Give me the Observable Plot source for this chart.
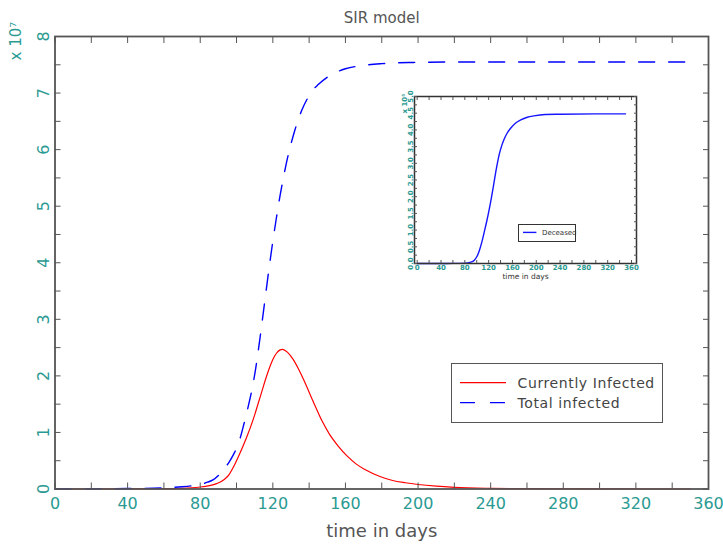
<!DOCTYPE html>
<html>
<head>
<meta charset="utf-8">
<script src="https://cdn.jsdelivr.net/npm/d3@7"></script>
<script src="https://cdn.jsdelivr.net/npm/@observablehq/plot@0.6"></script>
<style>
  body { margin: 0; background: #fff; }
  #wrap { position: relative; width: 723px; height: 547px; overflow: hidden; font-family: "DejaVu Sans", sans-serif; background: #fff; }
  .legend { position: absolute; box-sizing: border-box; background: #fff; }
</style>
</head>
<body>
<div id="wrap"></div>
<script>
// ---------------- data ----------------
const currentDays = [0, 20, 40, 60, 70, 75, 80, 85, 89, 92, 94, 96, 98, 100, 102, 104, 106, 108, 110, 112, 114, 116, 118, 120, 122, 124, 125.3, 128, 131, 134, 137, 140, 143, 147, 151, 156, 161, 166, 171, 179, 186, 193, 200, 210, 220, 240, 260, 300, 350];
const currentVals = [0, 0.0002, 0.001, 0.005, 0.012, 0.02, 0.035, 0.06, 0.095, 0.14, 0.19, 0.26, 0.37, 0.5, 0.64, 0.79, 0.95, 1.12, 1.31, 1.52, 1.73, 1.94, 2.13, 2.29, 2.4, 2.46, 2.47, 2.42, 2.3, 2.13, 1.93, 1.71, 1.49, 1.21, 0.98, 0.76, 0.58, 0.44, 0.34, 0.22, 0.15, 0.11, 0.08, 0.05, 0.03, 0.012, 0.005, 0.001, 0];

const totalDays = [0, 20, 40, 60, 70, 76, 80, 84, 87, 90, 92, 94, 96, 98, 100, 102, 104, 106, 108, 110, 112, 114, 116, 118, 120, 122, 124, 126, 128, 130, 132, 134, 136, 139, 142, 145, 150, 155, 160, 170, 180, 195, 230, 280, 350];
const totalVals = [0, 0.003, 0.008, 0.02, 0.04, 0.06, 0.08, 0.12, 0.16, 0.24, 0.31, 0.39, 0.48, 0.59, 0.72, 0.9, 1.14, 1.4, 1.68, 2.02, 2.45, 2.93, 3.43, 3.92, 4.38, 4.8, 5.19, 5.53, 5.84, 6.1, 6.33, 6.53, 6.7, 6.9, 7.05, 7.15, 7.28, 7.37, 7.43, 7.49, 7.52, 7.54, 7.55, 7.55, 7.55];

const deceasedDays = [0, 40, 60, 80, 90, 96, 101, 105, 109, 113, 117, 121, 125, 129, 132, 135, 138, 142, 146, 151, 157, 165, 174, 185, 196, 215, 240, 300, 350];
const deceasedVals = [0, 0.001, 0.003, 0.01, 0.04, 0.1, 0.23, 0.42, 0.67, 0.97, 1.28, 1.62, 2.0, 2.42, 2.74, 3.03, 3.28, 3.53, 3.72, 3.9, 4.05, 4.2, 4.3, 4.38, 4.42, 4.46, 4.47, 4.48, 4.48];

const xTicks = [0, 40, 80, 120, 160, 200, 240, 280, 320, 360];
const xMinorTicks = [0, 20, 40, 60, 80, 100, 120, 140, 160, 180, 200, 220, 240, 260, 280, 300, 320, 340, 360];
const yTicks = [0, 1, 2, 3, 4, 5, 6, 7, 8];
const yMinorTicks = [0, 0.5, 1, 1.5, 2, 2.5, 3, 3.5, 4, 4.5, 5, 5.5, 6, 6.5, 7, 7.5, 8];
const insetYTicks = [0, 0.5, 1, 1.5, 2, 2.5, 3, 3.5, 4, 4.5, 5];
const insetYMinorTicks = [0, 0.25, 0.5, 0.75, 1, 1.25, 1.5, 1.75, 2, 2.25, 2.5, 2.75, 3, 3.25, 3.5, 3.75, 4, 4.25, 4.5, 4.75, 5];

const seriesNames = ["Currently Infected", "Total infected"];
const insetSeriesName = "Deceased";
const titleText = "SIR model";
const xLabel = "time in days";

// ---------------- build ----------------
const current = currentDays.map((d, i) => ({day: d, v: currentVals[i]}));
const total = totalDays.map((d, i) => ({day: d, v: totalVals[i]}));
const deceased = deceasedDays.map((d, i) => ({day: d, v: deceasedVals[i]}));

const teal = "#2a9a92";
const frameStroke = "#555";
const font = '"DejaVu Sans", sans-serif';
const wrap = document.getElementById("wrap");

const main = Plot.plot({
  width: 723, height: 547,
  marginLeft: 54.5, marginRight: 15, marginTop: 36, marginBottom: 58.5,
  x: {domain: [0, 360]},
  y: {domain: [0, 8]},
  style: {fontFamily: font, background: "white", overflow: "visible"},
  marks: [
    Plot.line(current, {x: "day", y: "v", stroke: "#ff0000", strokeWidth: 1.2, curve: "monotone-x"}),
    Plot.line(total, {x: "day", y: "v", stroke: "#0000ff", strokeWidth: 1.4, strokeDasharray: "16,14", curve: "monotone-x"}),
    Plot.frame({stroke: frameStroke, strokeWidth: 1.8}),
    Plot.axisX({ticks: xMinorTicks, anchor: "bottom", tickSize: 6, dy: -6, fill: "none", stroke: frameStroke, label: null}),
    Plot.axisX({ticks: xMinorTicks, anchor: "top", tickSize: 6, dy: 6, fill: "none", stroke: frameStroke, label: null}),
    Plot.axisY({ticks: yMinorTicks, anchor: "left", tickSize: 6, dx: 6, fill: "none", stroke: frameStroke, label: null}),
    Plot.axisY({ticks: yMinorTicks, anchor: "right", tickSize: 6, dx: -6, fill: "none", stroke: frameStroke, label: null}),
    Plot.axisX({ticks: xTicks, anchor: "bottom", tickSize: 0, tickPadding: 9, fontSize: 16, fill: teal, label: null}),
    Plot.axisY({ticks: yTicks, anchor: "left", tickSize: 0, tickPadding: 6, tickRotate: -90, fontSize: 16, fill: teal, label: null}),
    Plot.text([titleText], {frameAnchor: "top", dy: -24, fontSize: 15, fill: "#555"}),
    Plot.text([xLabel], {frameAnchor: "bottom", dy: 48, fontSize: 18, fill: "#555"}),
    Plot.text(["x 10\u2077"], {frameAnchor: "top-left", dx: -44.5, dy: 24, rotate: -90, fontSize: 15, fill: teal})
  ]
});
main.style.position = "absolute";
main.style.left = "0px";
main.style.top = "0px";
wrap.appendChild(main);

// main legend
const leg = document.createElement("div");
leg.className = "legend";
leg.style.cssText = "left:450.7px;top:362.7px;width:212px;height:60.6px;border:1.4px solid #555;";
leg.innerHTML = `
<svg width="212" height="60" style="position:absolute;left:-1.4px;top:-1.4px;overflow:visible">
  <line x1="10" x2="56" y1="20.6" y2="20.6" stroke="#ff0000" stroke-width="1.3"/>
  <line x1="10" x2="56" y1="40.6" y2="40.6" stroke="#0000ff" stroke-width="1.4" stroke-dasharray="15,15"/>
  <text x="67.6" y="20.6" dy="0.35em" font-size="14" fill="#444" style="letter-spacing:0.6px">${seriesNames[0]}</text>
  <text x="67.6" y="40.6" dy="0.35em" font-size="14" fill="#444" style="letter-spacing:0.6px">${seriesNames[1]}</text>
</svg>`;
wrap.appendChild(leg);

// inset
const inset = Plot.plot({
  width: 244, height: 193,
  marginLeft: 18, marginRight: 4, marginTop: 4, marginBottom: 22,
  x: {domain: [0, 360], insetLeft: 2.7, insetRight: 5},
  y: {domain: [0, 5]},
  style: {fontFamily: font, background: "transparent", overflow: "visible"},
  marks: [
    Plot.frame({fill: "white", stroke: "none"}),
    Plot.line(deceased, {x: "day", y: "v", stroke: "#1515ff", strokeWidth: 1.4, curve: "monotone-x"}),
    Plot.frame({stroke: "#333", strokeWidth: 1.5}),
    Plot.axisX({ticks: xMinorTicks, anchor: "bottom", tickSize: 3, dy: -3, fill: "none", stroke: "#555", label: null}),
    Plot.axisX({ticks: xMinorTicks, anchor: "top", tickSize: 3, dy: 3, fill: "none", stroke: "#555", label: null}),
    Plot.axisY({ticks: insetYMinorTicks, anchor: "left", tickSize: 3, dx: 3, fill: "none", stroke: "#555", label: null}),
    Plot.axisY({ticks: insetYMinorTicks, anchor: "right", tickSize: 3, dx: -3, fill: "none", stroke: "#555", label: null}),
    Plot.axisX({ticks: xTicks, anchor: "bottom", tickSize: 0, tickPadding: 2, fontSize: 7, fontWeight: "bold", fill: teal, label: null}),
    Plot.axisY({ticks: insetYTicks, anchor: "left", tickSize: 0, tickPadding: 2, tickRotate: -90, tickFormat: d => d.toFixed(1), fontSize: 7, fontWeight: "bold", fill: teal, label: null}),
    Plot.text([xLabel], {frameAnchor: "bottom", dy: 15.3, fontSize: 7.5, fill: "#333"}),
    Plot.text(["x 10\u2075"], {frameAnchor: "top-left", dx: -12.5, dy: 17, rotate: -90, fontSize: 7, fontWeight: "bold", fill: teal})
  ]
});
inset.style.position = "absolute";
inset.style.left = "396px";
inset.style.top = "92px";
wrap.appendChild(inset);

// inset legend
const leg2 = document.createElement("div");
leg2.className = "legend";
leg2.style.cssText = "left:518.3px;top:224.3px;width:57.7px;height:17.4px;border:1px solid #333;";
leg2.innerHTML = `
<svg width="58" height="18" style="position:absolute;left:-1px;top:-1px;overflow:visible">
  <line x1="5" x2="18.4" y1="8.4" y2="8.4" stroke="#1515ff" stroke-width="1.4"/>
  <text x="24" y="8.4" dy="0.35em" font-size="7" fill="#333">${insetSeriesName}</text>
</svg>`;
wrap.appendChild(leg2);
</script>
</body>
</html>
